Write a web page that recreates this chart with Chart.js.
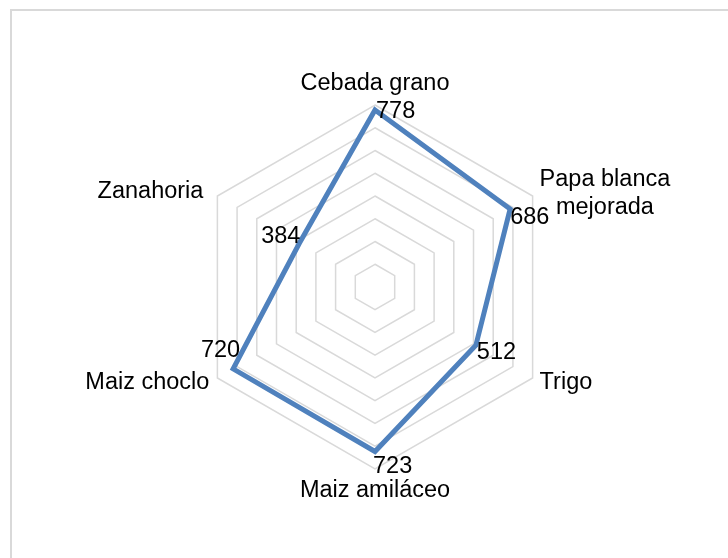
<!DOCTYPE html>
<html>
<head>
<meta charset="utf-8">
<script src="https://cdn.jsdelivr.net/npm/chart.js@4.4.0/dist/chart.umd.min.js"></script>
<style>
    html, body { margin: 0; padding: 0; background: #ffffff; overflow: hidden; }
    #wrap { position: relative; width: 728px; height: 558px; }
    #frame {
        position: absolute; left: 10px; top: 9px;
        width: 800px; height: 700px;
        border: 2px solid #d9d9d9;
    }
    #radar { position: absolute; left: 0; top: 0; }
</style>
</head>
<body>
<div id="wrap">
    <div id="frame"></div>
    <canvas id="radar" width="728" height="558"></canvas>
</div>
<script>
"use strict";

// categorías (etiquetas del eje) y valores de la serie
const categories = [
    'Cebada grano',
    ['Papa blanca', 'mejorada'],
    'Trigo',
    'Maiz amiláceo',
    'Maiz choclo',
    'Zanahoria'
];
const values = [778, 686, 512, 723, 720, 384];

const scaleMax = 800;
const scaleStep = 100;

const FONT = '23.5px "Liberation Sans", Arial, sans-serif';

// desplazamientos de las etiquetas, como en el gráfico de Excel
const catOffsets = [
    { dx: 0, dy: -21, align: 'center' },
    { dx: 7, dy: -2, align: 'left' },
    { dx: 7, dy: 5, align: 'left' },
    { dx: 0, dy: 22, align: 'center' },
    { dx: -8, dy: 5, align: 'right' },
    { dx: -14, dy: -4, align: 'right' }
];
const valOffsets = [
    { dx: 1, dy: 2, align: 'left' },
    { dx: 0, dy: 9, align: 'left' },
    { dx: 1, dy: 7, align: 'left' },
    { dx: -2, dy: 15, align: 'left' },
    { dx: 7, dy: -18, align: 'right' },
    { dx: 1, dy: -7, align: 'right' }
];

const labelPlugin = {
    id: 'excelLabels',
    afterDatasetsDraw(chart) {
        const ctx = chart.ctx;
        const scale = chart.scales.r;
        const lineH = 28;
        ctx.save();
        ctx.font = FONT;
        ctx.fillStyle = '#000000';
        ctx.textBaseline = 'middle';

        // nombres de las categorías
        categories.forEach((cat, i) => {
            const p = scale.getPointPosition(i, scale.drawingArea);
            const o = catOffsets[i];
            const lines = Array.isArray(cat) ? cat : [cat];
            const widest = Math.max(...lines.map(l => ctx.measureText(l).width));
            let cx;
            if (o.align === 'left') cx = p.x + o.dx + widest / 2;
            else if (o.align === 'right') cx = p.x + o.dx - widest / 2;
            else cx = p.x + o.dx;
            const top = p.y + o.dy - (lines.length - 1) * lineH / 2;
            ctx.textAlign = 'center';
            lines.forEach((l, k) => ctx.fillText(l, cx, top + k * lineH));
        });

        // etiquetas de datos
        values.forEach((v, i) => {
            const p = scale.getPointPositionForValue(i, v);
            const o = valOffsets[i];
            ctx.textAlign = o.align;
            ctx.fillText(String(v), p.x + o.dx, p.y + o.dy);
        });
        ctx.restore();
    }
};

new Chart(document.getElementById('radar'), {
    type: 'radar',
    data: {
        labels: categories,
        datasets: [{
            label: 'Serie',
            data: values,
            borderColor: '#4f81bd',
            backgroundColor: 'rgba(0,0,0,0)',
            borderWidth: 5,
            borderJoinStyle: 'miter',
            fill: false,
            pointRadius: 0,
            pointHoverRadius: 0,
            tension: 0
        }]
    },
    options: {
        responsive: false,
        maintainAspectRatio: false,
        animation: false,
        layout: {
            padding: { left: 193, right: 171, top: 105, bottom: 88 }
        },
        scales: {
            r: {
                min: 0,
                max: scaleMax,
                ticks: { stepSize: scaleStep, display: false },
                grid: { color: '#d9d9d9', lineWidth: 1.5, circular: false },
                angleLines: { display: false },
                pointLabels: { display: false }
            }
        },
        plugins: {
            legend: { display: false },
            tooltip: { enabled: false }
        }
    },
    plugins: [labelPlugin]
});
</script>
</body>
</html>
